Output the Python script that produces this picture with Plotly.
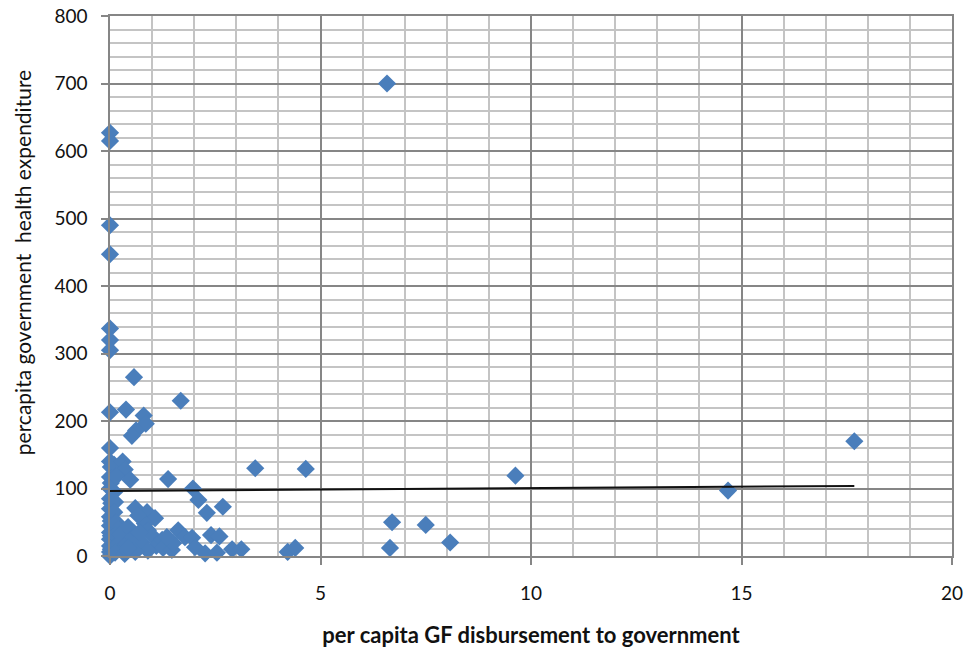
import numpy as np
import plotly.graph_objects as go

# Per-capita Global Fund disbursement to government (x) vs
# per-capita government health expenditure (y), one point per country.
gf_disbursement = [
    # countries with near-zero disbursement
    0.0, 0.0, 0.0, 0.0, 0.0, 0.0, 0.0, 0.0, -0.02, 0.0, 0.0, 0.02, -0.03, 0.0,
    0.02, 0.0, -0.02, 0.0, 0.03, 0.0, -0.02, 0.0, 0.02, 0.0, -0.03, 0.0, 0.02,
    0.0, -0.02, 0.0, 0.02, 0.0, -0.02, 0.0, 0.05, 0.08,
    0.1, 0.2, 0.3, 0.35, 0.15, 0.1, 0.12, 0.1, 0.15, 0.2, 0.12, 0.25, 0.15,
    0.3, 0.12, 0.35, 0.25, 0.4, 0.4,
    # low-disbursement cluster
    0.57, 1.68, 0.38, 0.8, 0.85, 0.62, 0.52, 0.48, 1.38, 3.45, 4.65, 1.97,
    2.1, 2.3, 2.68, 0.6, 0.88, 1.07, 0.83, 0.43, 0.67, 0.55, 0.75, 0.9, 1.0,
    1.1, 1.24, 1.26, 1.47, 1.5, 1.62, 1.78, 1.95, 2.02,
    2.26, 2.4, 2.6, 2.54, 2.9, 3.12, 4.22, 4.4, 0.9, 0.6, 0.43, 0.7, 1.35,
    # higher disbursement
    6.58, 9.63, 14.68, 17.68, 6.7, 7.5, 6.65, 8.08,
]
gov_health_exp = [
    627, 615, 490, 447, 337, 320, 305, 213, 208, 160, 140, 132, 125, 117,
    108, 100, 92, 85, 78, 70, 64, 58, 52, 45, 40, 35, 30,
    25, 20, 15, 10, 6, 2, 0, 12, 22,
    135, 125, 140, 128, 118, 95, 80, 65, 50, 40, 30, 22, 15,
    10, 5, 3, 32, 18, 8,
    265, 230, 217, 208, 196, 186, 178, 113, 114, 130, 129, 100,
    83, 64, 73, 71, 65, 56, 48, 43, 60, 28, 20, 38, 30,
    15, 24, 12, 9, 19, 38, 28, 27, 13,
    4, 31, 29, 5, 10, 10, 6, 12, 8, 6, 12, 35, 28,
    700, 119, 97, 170, 50, 46, 12, 20,
]

x_ticks = [0, 5, 10, 15, 20]
y_ticks = [0, 100, 200, 300, 400, 500, 600, 700, 800]

x_title = "per capita GF disbursement to government"
y_title = "percapita government  health expenditure"

x_arr = np.array(gf_disbursement, dtype=float)
y_arr = np.array(gov_health_exp, dtype=float)

# least-squares linear trend across the data's x-range
slope, intercept = np.polyfit(x_arr, y_arr, 1)
trend_x = np.array([x_arr.min(), x_arr.max()])
trend_y = intercept + slope * trend_x

FONT = "Lato"
TEXT = "#111111"
MAJOR = "#868686"
MINOR = "#c4c4c4"

fig = go.Figure()
fig.add_trace(go.Scatter(
    x=x_arr, y=y_arr, mode="markers",
    marker=dict(symbol="diamond", size=14, color="#4a7ebb", line=dict(width=0)),
    cliponaxis=False, showlegend=False, hoverinfo="x+y",
))
fig.add_trace(go.Scatter(
    x=trend_x, y=trend_y, mode="lines",
    line=dict(color="#111111", width=2),
    showlegend=False, hoverinfo="skip",
))

axis_common = dict(
    showgrid=True, gridcolor=MAJOR, gridwidth=1.5,
    showline=True, linecolor=MAJOR, linewidth=1.5, mirror=True,
    ticks="outside", ticklen=7, tickcolor=MAJOR, tickwidth=1.5,
    zeroline=False, automargin=False,
    tickfont=dict(family=FONT, size=19, color=TEXT),
)

fig.update_layout(
    width=966, height=657,
    margin=dict(l=110, r=14, t=16, b=101),
    paper_bgcolor="white", plot_bgcolor="white",
    xaxis=dict(
        **axis_common,
        range=[0, 20], tickmode="array", tickvals=x_ticks,
        ticktext=[str(v) for v in x_ticks],
        minor=dict(dtick=1, tick0=0, showgrid=True, gridcolor=MINOR,
                   gridwidth=1.5, ticks=""),
        ticklabelstandoff=12,
        title=dict(text=f"<b>{x_title}</b>",
                   font=dict(family=FONT, size=22, color=TEXT), standoff=25),
    ),
    yaxis=dict(
        **axis_common,
        range=[0, 800], tickmode="array", tickvals=y_ticks,
        ticktext=[str(v) for v in y_ticks],
        minor=dict(dtick=20, tick0=0, showgrid=True, gridcolor=MINOR,
                   gridwidth=1.5, ticks=""),
        ticklabelstandoff=10,
    ),
)

# vertical axis caption, set a little above the plot's mid-height
fig.add_annotation(
    text=y_title, textangle=-90,
    xref="paper", yref="paper", x=-0.104, y=0.543,
    xanchor="center", yanchor="middle", showarrow=False,
    font=dict(family=FONT, size=21, color=TEXT),
)

fig.write_html("out.html")
